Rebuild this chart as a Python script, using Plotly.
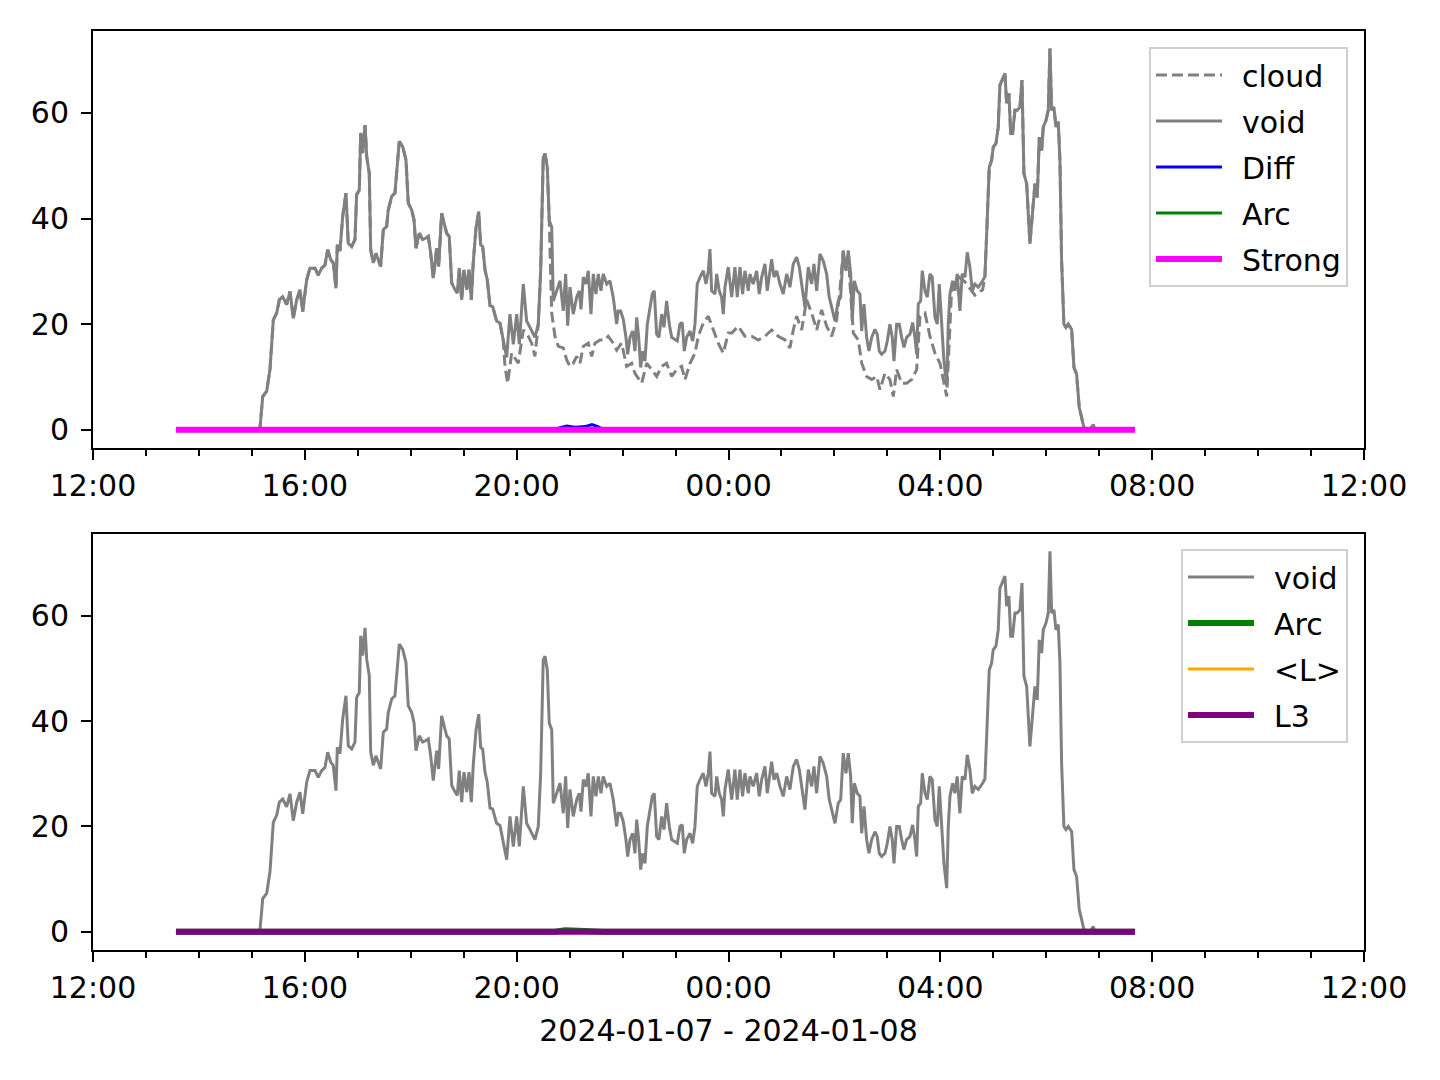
import pandas as pd
import plotly.graph_objects as go
from plotly.subplots import make_subplots

BASE = pd.Timestamp("2024-01-07 12:00")

# ---- data (minutes after 2024-01-07 12:00, values) ----
void_min = [94.0, 186.9, 189.2, 192.3, 196.8, 200.5, 204.3, 208.1, 211.1, 214.9, 219.4, 223.2, 226.9, 230.8,
            234.5, 237.6, 242.1, 245.8, 251.5, 255.2, 259.1, 262.8, 265.9, 269.3, 272.2, 275.3, 276.8, 279.8,
            282.9, 286.6, 289.2, 293.1, 296.8, 298.7, 301.7, 303.3, 305.5, 308.2, 310.1, 313.0, 314.6, 317.6,
            320.6, 323.2, 325.9, 328.9, 332.7, 334.5, 338.4, 342.1, 344.1, 347.0, 350.9, 354.6, 357.2, 361.1,
            363.7, 365.9, 369.7, 373.5, 377.3, 379.9, 382.6, 385.5, 389.4, 391.6, 395.0, 397.6, 400.7, 403.6,
            406.4, 409.3, 412.7, 415.0, 417.7, 420.3, 423.4, 426.0, 428.6, 430.8, 433.9, 437.0, 439.2, 441.5,
            444.1, 446.7, 449.8, 452.8, 457.3, 461.1, 464.8, 468.7, 472.4, 476.2, 480.0, 483.0, 487.5, 491.3,
            495.1, 500.7, 504.5, 507.2, 510.1, 512.1, 514.7, 516.9, 519.7, 521.5, 525.3, 529.1, 532.8, 535.5,
            537.8, 540.4, 544.1, 548.0, 550.9, 552.9, 555.5, 558.5, 561.1, 564.2, 566.8, 569.8, 572.5, 575.5,
            578.1, 582.0, 585.7, 589.4, 593.3, 595.1, 597.8, 600.8, 603.8, 605.8, 608.4, 611.4, 614.0, 616.0,
            618.2, 620.5, 622.8, 625.4, 628.0, 631.0, 633.6, 635.9, 638.6, 641.2, 644.3, 646.9, 649.9, 652.9,
            655.6, 659.3, 662.0, 665.0, 667.6, 669.9, 672.6, 676.4, 679.4, 682.0, 684.6, 687.7, 691.4, 694.5,
            697.1, 699.0, 700.9, 704.7, 706.6, 709.5, 712.2, 714.1, 716.0, 719.7, 723.6, 727.3, 729.9, 733.0,
            736.0, 738.6, 742.4, 744.3, 748.0, 751.9, 754.8, 757.6, 761.3, 763.9, 767.0, 768.9, 771.5, 774.6,
            778.3, 782.0, 785.9, 789.6, 793.4, 797.2, 800.2, 802.9, 806.6, 810.4, 814.2, 816.8, 819.9, 823.6,
            827.3, 831.2, 834.1, 836.9, 840.6, 844.3, 847.1, 850.0, 853.1, 855.7, 858.4, 860.2, 862.5, 865.9,
            868.9, 870.9, 873.5, 876.5, 879.1, 882.2, 885.9, 888.5, 890.8, 893.5, 897.3, 899.9, 902.9, 905.5,
            907.5, 910.5, 913.5, 916.2, 918.8, 921.8, 925.6, 928.6, 931.2, 933.2, 935.0, 937.7, 939.5, 942.6,
            945.2, 948.2, 950.8, 953.9, 956.5, 958.8, 961.5, 964.1, 967.2, 969.0, 970.9, 973.9, 976.5, 979.1,
            982.2, 984.8, 987.9, 990.5, 993.5, 996.2, 999.2, 1003.0, 1007.9, 1010.5, 1012.5, 1015.4, 1018.1,
            1019.9, 1023.0, 1025.6, 1027.5, 1031.3, 1033.2, 1035.1, 1037.7, 1039.7, 1041.9, 1044.5, 1047.1,
            1050.2, 1052.5, 1054.7, 1057.8, 1061.5, 1064.6, 1067.2, 1069.8, 1072.1, 1074.8, 1076.6, 1079.7,
            1082.3, 1084.2, 1086.1, 1088.7, 1091.0, 1093.6, 1095.5, 1097.4, 1100.0, 1102.3, 1104.9, 1108.8,
            1111.4, 1114.4, 1117.4, 1120.1, 1122.7, 1129.5, 1133.3, 1135.2, 1180.5]
void_val = [0.0, 0.0, 0.4, 6.3, 7.3, 11.4, 20.8, 22.1, 24.6, 25.2, 23.7, 26.2, 21.1, 24.6,
            26.5, 22.4, 28.4, 30.6, 30.6, 29.3, 30.6, 31.2, 34.1, 32.2, 31.6, 26.8, 35.0, 33.8,
            40.4, 44.8, 35.3, 34.7, 36.0, 44.5, 45.4, 56.2, 52.4, 57.7, 51.7, 48.6, 34.1, 31.6,
            33.4, 32.2, 30.9, 37.9, 38.5, 41.6, 44.2, 44.8, 49.2, 54.6, 53.6, 51.1, 42.9, 41.6,
            39.7, 34.4, 37.2, 36.0, 36.3, 36.6, 33.4, 28.7, 34.4, 30.9, 41.0, 39.1, 37.2, 36.6,
            27.8, 26.8, 25.9, 30.6, 24.6, 30.3, 26.5, 30.3, 24.6, 31.6, 38.2, 41.3, 35.0, 34.7,
            30.3, 28.4, 23.5, 23.3, 20.6, 20.2, 16.8, 13.7, 21.9, 16.2, 21.9, 16.2, 27.6, 20.6,
            19.4, 17.5, 20.0, 30.1, 51.6, 52.3, 49.7, 39.6, 38.4, 24.4, 26.3, 28.2, 22.5, 29.5,
            19.7, 27.0, 21.9, 25.1, 26.3, 22.8, 28.9, 27.6, 30.1, 21.9, 29.5, 25.7, 29.5, 26.3,
            29.5, 27.6, 28.2, 25.1, 20.0, 22.5, 22.5, 20.9, 17.5, 14.3, 17.5, 18.7, 14.9, 21.3,
            17.5, 11.8, 14.9, 13.0, 20.0, 23.2, 25.7, 26.3, 18.1, 17.5, 21.9, 19.4, 24.4, 20.0,
            17.5, 17.1, 16.8, 20.0, 20.3, 14.9, 17.5, 18.7, 16.8, 20.0, 27.6, 28.9, 30.1, 27.6,
            30.1, 34.2, 26.3, 25.7, 29.5, 26.3, 25.1, 21.9, 27.0, 30.8, 25.1, 30.8, 25.1, 30.8,
            25.7, 30.1, 26.3, 29.5, 27.6, 30.1, 25.7, 28.9, 31.4, 26.3, 30.1, 32.3, 28.9, 30.1,
            27.6, 25.7, 29.5, 27.0, 31.4, 32.7, 30.8, 27.6, 23.2, 30.8, 27.6, 31.4, 26.3, 33.3,
            32.0, 29.5, 25.1, 23.2, 20.6, 24.4, 25.1, 33.9, 30.1, 33.9, 29.5, 20.6, 28.2, 26.3,
            25.7, 18.7, 23.8, 17.5, 14.9, 17.5, 19.0, 18.1, 14.9, 14.3, 14.9, 16.8, 20.0, 17.5,
            13.0, 20.0, 20.0, 17.5, 15.6, 17.5, 18.1, 20.3, 17.5, 14.3, 23.8, 24.4, 30.1, 26.3,
            25.1, 29.5, 28.9, 21.3, 20.0, 27.6, 20.0, 13.0, 8.3, 20.0, 25.7, 28.2, 26.3, 29.5,
            22.5, 29.5, 28.9, 33.6, 30.8, 26.3, 27.6, 27.0, 28.2, 29.0, 37.1, 49.7, 51.0,
            53.5, 54.2, 57.3, 65.2, 66.8, 67.5, 61.8, 63.7, 56.1, 56.1, 60.5, 60.5,
            61.1, 66.2, 48.5, 46.6, 35.2, 41.5, 46.6, 44.0, 55.4, 52.9, 57.3, 58.6,
            60.5, 72.2, 60.5, 61.1, 57.3, 58.3, 51.0, 32.0, 20.0, 19.4, 20.0, 19.0,
            11.8, 10.5, 4.2, 2.3, 0.4, 0.0, 1.0, 0.0, 0.0]

# cloud where it departs from void (about 19:45 -> 04:50)
cloud_mid_min = [466.8, 469.8, 474.3, 481.8, 487.5, 493.2, 497.0, 500.7, 504.5, 507.2, 510.1, 512.1, 514.7,
                 516.9, 519.7, 523.4, 527.2, 532.8, 536.7, 540.4, 544.1, 548.0, 551.7, 555.5, 561.1, 565.0,
                 568.7, 574.4, 580.0, 583.8, 589.4, 593.3, 598.9, 604.6, 610.3, 614.0, 621.6, 627.3, 632.9,
                 638.6, 644.3, 649.9, 655.6, 661.3, 666.9, 670.7, 676.4, 682.0, 685.8, 691.4, 697.1, 702.7,
                 708.4, 714.1, 719.7, 723.6, 731.1, 738.6, 746.2, 753.7, 761.3, 768.9, 776.4, 784.0, 789.6,
                 793.4, 797.2, 802.9, 808.5, 814.2, 819.9, 825.5, 831.2, 836.9, 842.5, 846.3, 850.0, 853.1,
                 855.7, 857.6, 861.4, 867.1, 870.9, 876.5, 882.2, 887.9, 891.6, 897.3, 902.9, 906.7, 910.5,
                 916.2, 921.8, 927.5, 933.2, 936.9, 942.6, 948.2, 953.9, 959.6, 965.2, 967.2, 972.8, 980.3,
                 987.9, 999.2, 1007.9]
cloud_mid_val = [12.0, 8.8, 14.5, 12.6, 18.9, 17.7, 16.4, 13.9, 20.0, 30.1, 51.6, 52.3, 49.7,
                 39.6, 22.1, 17.7, 15.8, 15.5, 13.2, 12.0, 12.6, 13.9, 12.6, 15.8, 16.4, 13.9,
                 16.4, 17.0, 17.0, 17.7, 16.4, 15.1, 16.4, 12.0, 12.6, 10.7, 8.8, 12.6, 11.4,
                 10.1, 12.0, 12.6, 10.1, 11.4, 12.0, 9.5, 12.6, 14.5, 17.7, 20.2, 21.5, 18.9,
                 16.4, 14.5, 18.3, 18.3, 19.6, 17.7, 17.7, 17.0, 17.7, 18.9, 17.7, 17.0, 15.5,
                 18.9, 21.5, 18.9, 24.6, 22.1, 18.9, 22.7, 19.6, 17.7, 20.8, 26.5, 33.9, 30.1,
                 33.9, 27.8, 18.3, 17.0, 12.6, 10.1, 9.5, 10.1, 7.6, 10.7, 9.5, 6.3, 11.4,
                 8.8, 8.8, 9.5, 11.4, 21.5, 22.1, 17.7, 14.5, 12.6, 8.2, 6.3, 26.5, 29.0,
                 28.0, 25.5, 26.5]

# near-zero series
flat_min = [94.0, 1180.5]
flat_val = [0.0, 0.0]
diff_min = [94.0, 523.4, 529.1, 537.0, 546.0, 557.4, 565.3, 572.1, 578.9, 1180.5]
diff_val = [0.0, 0.0, 0.4, 0.7, 0.5, 0.6, 1.0, 0.6, 0.0, 0.0]
arc_min = [94.0, 523.4, 535.0, 550.0, 565.0, 578.9, 1180.5]
arc_val = [0.0, 0.0, 0.3, 0.2, 0.3, 0.0, 0.0]

# ---- build series ----
def ts(mins):
    return BASE + pd.to_timedelta(pd.Series(mins), unit="min")

cloud_min = [m for m in void_min if m < cloud_mid_min[0]] + cloud_mid_min + \
            [m for m in void_min if m > cloud_mid_min[-1]]
cloud_val = [v for m, v in zip(void_min, void_val) if m < cloud_mid_min[0]] + cloud_mid_val + \
            [v for m, v in zip(void_min, void_val) if m > cloud_mid_min[-1]]

FONT = "DejaVu Sans"
GRAY = "#808080"
SP = "\u2002"  # small gap between legend line and label
THIN = 3.0
THICK = 6.0

fig = make_subplots(rows=2, cols=1, vertical_spacing=0.0)

# top panel
fig.add_trace(go.Scatter(x=ts(cloud_min), y=cloud_val, mode="lines", name=SP + "cloud",
                         line=dict(color=GRAY, width=THIN, dash="11px,5px"), legend="legend",
                         legendgroup="a1"), row=1, col=1)
fig.add_trace(go.Scatter(x=ts(void_min), y=void_val, mode="lines", name=SP + "void",
                         line=dict(color=GRAY, width=THIN), legend="legend", legendgroup="a2"), row=1, col=1)
fig.add_trace(go.Scatter(x=ts(diff_min), y=diff_val, mode="lines", name=SP + "Diff",
                         line=dict(color="#0000ff", width=THIN), legend="legend", legendgroup="a3"), row=1, col=1)
fig.add_trace(go.Scatter(x=ts(arc_min), y=arc_val, mode="lines", name=SP + "Arc",
                         line=dict(color="#008000", width=THIN), legend="legend", legendgroup="a4"), row=1, col=1)
fig.add_trace(go.Scatter(x=ts(flat_min), y=flat_val, mode="lines", name=SP + "Strong",
                         line=dict(color="#ff00ff", width=THICK), legend="legend", legendgroup="a5"), row=1, col=1)

# bottom panel
fig.add_trace(go.Scatter(x=ts(void_min), y=void_val, mode="lines", name=SP + "void",
                         line=dict(color=GRAY, width=THIN), legend="legend2", legendgroup="b1"), row=2, col=1)
fig.add_trace(go.Scatter(x=ts(arc_min), y=arc_val, mode="lines", name=SP + "Arc",
                         line=dict(color="#008000", width=THICK), legend="legend2", legendgroup="b2"), row=2, col=1)
fig.add_trace(go.Scatter(x=ts(flat_min), y=flat_val, mode="lines", name=SP + "<L>",
                         line=dict(color="#ffa500", width=THIN), legend="legend2", legendgroup="b3"), row=2, col=1)
fig.add_trace(go.Scatter(x=ts(flat_min), y=flat_val, mode="lines", name=SP + "L3",
                         line=dict(color="#800080", width=THICK), legend="legend2", legendgroup="b4"), row=2, col=1)

x_range = [BASE, BASE + pd.Timedelta(hours=24)]
xcommon = dict(range=x_range, type="date", tick0=BASE, dtick=4 * 3600000, tickformat="%H:%M",
               ticks="outside", ticklen=10, tickwidth=2, tickcolor="black",
               showline=True, linecolor="black", linewidth=2, mirror=True, showgrid=False, zeroline=False,
               minor=dict(dtick=3600000, ticks="outside", ticklen=6, tickwidth=1.5, tickcolor="black", showgrid=False),
               tickfont=dict(family=FONT, size=30, color="black"))
ycommon = dict(range=[-3.45, 75.5], tickmode="array", tickvals=[0, 20, 40, 60],
               ticks="outside", ticklen=10, tickwidth=2, tickcolor="black",
               showline=True, linecolor="black", linewidth=2, mirror=True, showgrid=False, zeroline=False,
               ticklabelstandoff=6, tickfont=dict(family=FONT, size=30, color="black"))

top_dom = [(950 - 448) / 919, 1.0]
bot_dom = [0.0, (950 - 534) / 919]
fig.update_xaxes(**xcommon)
fig.update_yaxes(**ycommon)
fig.update_yaxes(domain=top_dom, row=1, col=1)
fig.update_yaxes(domain=bot_dom, row=2, col=1)
fig.update_xaxes(title=dict(text="2024-01-07 - 2024-01-08", font=dict(family=FONT, size=30, color="black"),
                            standoff=16), row=2, col=1)

legend_style = dict(xanchor="right", yanchor="top", bgcolor="rgba(255,255,255,0.85)",
                    bordercolor="#d0d0d0", borderwidth=2, font=dict(family=FONT, size=30, color="black"),
                    tracegroupgap=4, itemwidth=66)
# the page body adds an 8px offset, so margins are shifted to compensate
fig.update_layout(
    width=1440, height=1080,
    margin=dict(l=85, r=84, t=23, b=138),
    paper_bgcolor="white", plot_bgcolor="white",
    font=dict(family=FONT, size=30, color="black"),
    legend=dict(x=0.9874, y=0.9826, **legend_style),
    legend2=dict(x=0.9874, y=0.4363, **legend_style),
    showlegend=True,
)

fig.write_html("out.html")
